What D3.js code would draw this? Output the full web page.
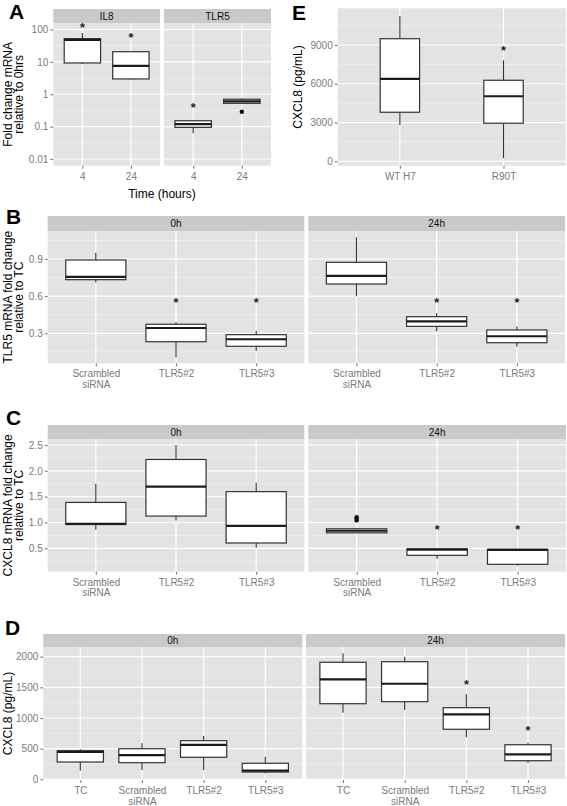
<!DOCTYPE html>
<html><head><meta charset="utf-8">
<script src="https://cdn.jsdelivr.net/npm/d3@7"></script>
<style>
body{margin:0;background:#fff}
svg text{font-family:"Liberation Sans",Arial,Helvetica,sans-serif}
</style>
</head><body>
<svg id="c" width="567" height="806"></svg>
<script>
// ---------------- DATA ----------------
// box rows: [lowerWhisker, q1, median, q3, upperWhisker]
// Panel A
const aCats = ["4", "24"];
const aFacetLabels = ["IL8", "TLR5"];
const aBoxesIL8 = [[8.6, 9.25, 48, 52, 78], [2.8, 2.97, 7.5, 20.6, 20.6]];
const aBoxesTLR5 = [[0.062, 0.095, 0.12, 0.152, 0.152], [0.525, 0.525, 0.605, 0.70, 0.74]];
const aStarsIL8 = [138, 68];
const aStarsTLR5 = [0.466, null];
const aOutIL8 = [[], []];
const aOutTLR5 = [[], [0.289]];
const aTicks = [0.01, 0.1, 1, 10, 100];
const aTickLabels = ["0.01", "0.1", "1", "10", "100"];
const aMinor = [0.0316, 0.316, 3.16, 31.6];

// Panel E
const eCats = ["WT H7", "R90T"];
const eBoxes = [[2814, 3796, 6371, 9487, 11242], [240, 2946, 5034, 6271, 7817]];
const eStars = [null, 8745];
const eTicks = [0, 3000, 6000, 9000];
const eTickLabels = ["0", "3000", "6000", "9000"];
const eMinor = [1500, 4500, 7500, 10500];

// Panel B
const bCats = ["Scrambled\nsiRNA", "TLR5#2", "TLR5#3"];
const bFacetLabels = ["0h", "24h"];
const bBoxes0h = [[0.71, 0.733, 0.755, 0.892, 0.951], [0.106, 0.232, 0.343, 0.373, 0.389], [0.16, 0.195, 0.252, 0.289, 0.321]];
const bBoxes24h = [[0.60, 0.698, 0.763, 0.873, 1.075], [0.316, 0.356, 0.396, 0.434, 0.461], [0.192, 0.224, 0.276, 0.327, 0.354]];
const bStars0h = [null, 0.573, 0.573];
const bStars24h = [null, 0.573, 0.573];
const bTicks = [0.3, 0.6, 0.9];
const bTickLabels = ["0.3", "0.6", "0.9"];
const bMinor = [0.15, 0.45, 0.75, 1.05];

// Panel C
const cCats = ["Scrambled\nsiRNA", "TLR5#2", "TLR5#3"];
const cFacetLabels = ["0h", "24h"];
const cBoxes0h = [[0.86, 0.96, 0.975, 1.388, 1.75], [1.04, 1.124, 1.694, 2.22, 2.5], [0.51, 0.603, 0.936, 1.597, 1.77]];
const cBoxes24h = [[0.80, 0.80, 0.84, 0.878, 0.878], [0.30, 0.364, 0.475, 0.49, 0.49], [0.16, 0.19, 0.47, 0.48, 0.48]];
const cStars0h = [null, null, null];
const cStars24h = [null, 0.92, 0.92];
const cOut24h = [[1.04, 1.07, 1.10], [], []];
const cTicks = [0.5, 1.0, 1.5, 2.0, 2.5];
const cTickLabels = ["0.5", "1.0", "1.5", "2.0", "2.5"];
const cMinor = [0.25, 0.75, 1.25, 1.75, 2.25];

// Panel D
const dCats = ["TC", "Scrambled\nsiRNA", "TLR5#2", "TLR5#3"];
const dFacetLabels = ["0h", "24h"];
const dBoxes0h = [[140, 282, 445, 467, 489], [152, 271, 396, 499, 587], [152, 359, 560, 630, 706], [98, 119, 140, 261, 369]];
const dBoxes24h = [[1086, 1233, 1631, 1909, 2055], [1130, 1266, 1559, 1918, 2000], [685, 816, 1060, 1168, 1387], [271, 303, 408, 564, 597]];
const dStars0h = [null, null, null, null];
const dStars24h = [null, null, 1587, 832];
const dTicks = [0, 500, 1000, 1500, 2000];
const dTickLabels = ["0", "500", "1000", "1500", "2000"];
const dMinor = [250, 750, 1250, 1750];

// ---------------- DRAWING ----------------
const svg = d3.select("#c");
const FONT = '"Liberation Sans",Arial,Helvetica,sans-serif';

function panel(cfg) {
  const g = svg.append("g");
  const y = cfg.y;
  cfg.facets.forEach((f, fi) => {
    const x = d3.scalePoint().domain(cfg.cats).range([f.x0, f.x1]).padding(0.6);
    if (cfg.stripTop != null) {
      g.append("rect").attr("x", f.x0).attr("y", cfg.stripTop)
        .attr("width", f.x1 - f.x0).attr("height", cfg.plotTop - cfg.stripTop).attr("fill", "#c9c9c9");
      g.append("text").attr("x", (f.x0 + f.x1) / 2).attr("y", (cfg.stripTop + cfg.plotTop) / 2)
        .attr("dy", "0.36em").attr("text-anchor", "middle").attr("font-size", 10)
        .attr("fill", "#111").text(f.label);
    }
    g.append("rect").attr("x", f.x0).attr("y", cfg.plotTop)
      .attr("width", f.x1 - f.x0).attr("height", cfg.plotBottom - cfg.plotTop).attr("fill", "#e3e3e3");
    g.selectAll(null).data(cfg.minor).enter().append("line")
      .attr("x1", f.x0).attr("x2", f.x1).attr("y1", d => y(d)).attr("y2", d => y(d))
      .attr("stroke", "#f0f0f0").attr("stroke-width", 0.8);
    g.selectAll(null).data(cfg.ticks).enter().append("line")
      .attr("x1", f.x0).attr("x2", f.x1).attr("y1", d => y(d)).attr("y2", d => y(d))
      .attr("stroke", "#ffffff").attr("stroke-width", 1.2);
    g.selectAll(null).data(cfg.cats).enter().append("line")
      .attr("x1", d => x(d)).attr("x2", d => x(d)).attr("y1", cfg.plotTop).attr("y2", cfg.plotBottom)
      .attr("stroke", "#ffffff").attr("stroke-width", 1.2);

    const w = cfg.boxFrac * x.step();
    f.boxes.forEach((b, i) => {
      const cx = x(cfg.cats[i]);
      const [lo, q1, md, q3, hi] = b;
      const bg = g.append("g");
      bg.append("line").attr("x1", cx).attr("x2", cx).attr("y1", y(hi)).attr("y2", y(q3))
        .attr("stroke", "#333").attr("stroke-width", 1.1);
      bg.append("line").attr("x1", cx).attr("x2", cx).attr("y1", y(q1)).attr("y2", y(lo))
        .attr("stroke", "#333").attr("stroke-width", 1.1);
      bg.append("rect").attr("x", cx - w / 2).attr("y", y(q3)).attr("width", w)
        .attr("height", Math.max(0.5, y(q1) - y(q3)))
        .attr("fill", "#fff").attr("stroke", "#333").attr("stroke-width", 1.2);
      bg.append("line").attr("x1", cx - w / 2).attr("x2", cx + w / 2).attr("y1", y(md)).attr("y2", y(md))
        .attr("stroke", "#1a1a1a").attr("stroke-width", 2.2);
      if (f.outliers && f.outliers[i]) {
        f.outliers[i].forEach(o => {
          bg.append("circle").attr("cx", cx).attr("cy", y(o)).attr("r", 2.2).attr("fill", "#111");
        });
      }
      if (f.stars && f.stars[i] != null) {
        bg.append("text").attr("x", cx).attr("y", y(f.stars[i]) + 7.2)
          .attr("text-anchor", "middle").attr("font-size", 12.5).attr("font-weight", "bold")
          .attr("fill", "#222").text("*");
      }
    });

    // x axis
    const ax = g.append("g").attr("transform", `translate(0,${cfg.plotBottom})`)
      .call(d3.axisBottom(x).tickSize(3).tickPadding(4));
    ax.select(".domain").remove();
    ax.attr("font-family", FONT).attr("font-size", 10);
    ax.selectAll(".tick line").attr("stroke", "#7f7f7f").attr("stroke-width", 1.1);
    ax.selectAll(".tick text").attr("fill", "#7a7a7a").attr("dy", null).each(function (d) {
      const t = d3.select(this);
      const lines = d.split("\n");
      t.text(null);
      lines.forEach((l, li) => {
        t.append("tspan").attr("x", 0).attr("dy", li === 0 ? "0.71em" : "1.05em").text(l);
      });
    });

    // y axis on first facet
    if (fi === 0) {
      const ay = g.append("g").attr("transform", `translate(${f.x0},0)`)
        .call(d3.axisLeft(y).tickValues(cfg.ticks).tickFormat((d, i) => cfg.tickLabels[i])
          .tickSize(3).tickPadding(2));
      ay.select(".domain").remove();
      ay.attr("font-family", FONT).attr("font-size", 10);
      ay.selectAll(".tick line").attr("stroke", "#7f7f7f").attr("stroke-width", 1.1);
      ay.selectAll(".tick text").attr("fill", "#7a7a7a");
    }
  });

  // y title
  const cy = (cfg.plotTop + cfg.plotBottom) / 2;
  cfg.ytitle.forEach((t, i) => {
    const bx = cfg.ytitleX[i];
    svg.append("text").attr("transform", `translate(${bx},${cy}) rotate(-90)`)
      .attr("text-anchor", "middle").attr("font-size", 12).attr("fill", "#000").text(t);
  });
  // panel letter
  svg.append("text").attr("x", cfg.letterX).attr("y", cfg.letterY)
    .attr("font-size", 21).attr("font-weight", "bold").attr("fill", "#000").text(cfg.letter);
}

// Panel A
panel({
  cats: aCats,
  y: d3.scaleLog().domain([0.01, 100]).range([159, 29.5]),
  ticks: aTicks, tickLabels: aTickLabels, minor: aMinor,
  stripTop: 9, plotTop: 23, plotBottom: 165.7, boxFrac: 0.75,
  facets: [
    {label: aFacetLabels[0], x0: 53.3, x1: 160, boxes: aBoxesIL8, stars: aStarsIL8, outliers: aOutIL8},
    {label: aFacetLabels[1], x0: 164, x1: 271, boxes: aBoxesTLR5, stars: aStarsTLR5, outliers: aOutTLR5}
  ],
  ytitle: ["Fold change mRNA", "relative to 0hrs"], ytitleX: [12, 23],
  letter: "A", letterX: 9, letterY: 18.5
});
svg.append("text").attr("x", 162).attr("y", 197.5).attr("text-anchor", "middle")
  .attr("font-size", 12).attr("fill", "#000").text("Time (hours)");

// Panel E
panel({
  cats: eCats,
  y: d3.scaleLinear().domain([0, 9000]).range([161.3, 45]),
  ticks: eTicks, tickLabels: eTickLabels, minor: eMinor,
  stripTop: null, plotTop: 8.3, plotBottom: 165.7, boxFrac: 0.38,
  facets: [{label: "", x0: 337.7, x1: 565.7, boxes: eBoxes, stars: eStars, outliers: null}],
  ytitle: ["CXCL8 (pg/mL)"], ytitleX: [302],
  letter: "E", letterX: 292, letterY: 20
});

// Panel B
panel({
  cats: bCats,
  y: d3.scaleLinear().domain([0.3, 0.9]).range([333.3, 259]),
  ticks: bTicks, tickLabels: bTickLabels, minor: bMinor,
  stripTop: 216, plotTop: 231, plotBottom: 363.3, boxFrac: 0.75,
  facets: [
    {label: bFacetLabels[0], x0: 47.7, x1: 304.3, boxes: bBoxes0h, stars: bStars0h, outliers: null},
    {label: bFacetLabels[1], x0: 308.3, x1: 565, boxes: bBoxes24h, stars: bStars24h, outliers: null}
  ],
  ytitle: ["TLR5 mRNA fold change", "relative to TC"], ytitleX: [12, 23],
  letter: "B", letterX: 6, letterY: 224
});

// Panel C
panel({
  cats: cCats,
  y: d3.scaleLinear().domain([0.5, 2.5]).range([548.3, 445]),
  ticks: cTicks, tickLabels: cTickLabels, minor: cMinor,
  stripTop: 425, plotTop: 439, plotBottom: 571.7, boxFrac: 0.75,
  facets: [
    {label: cFacetLabels[0], x0: 47.7, x1: 304.3, boxes: cBoxes0h, stars: cStars0h, outliers: null},
    {label: cFacetLabels[1], x0: 308.3, x1: 566, boxes: cBoxes24h, stars: cStars24h, outliers: cOut24h}
  ],
  ytitle: ["CXCL8 mRNA fold change", "relative to TC"], ytitleX: [12, 23],
  letter: "C", letterX: 6, letterY: 425
});

// Panel D
panel({
  cats: dCats,
  y: d3.scaleLinear().domain([0, 2000]).range([779.3, 656.7]),
  ticks: dTicks, tickLabels: dTickLabels, minor: dMinor,
  stripTop: 634, plotTop: 647, plotBottom: 780, boxFrac: 0.75,
  facets: [
    {label: dFacetLabels[0], x0: 43.3, x1: 302.3, boxes: dBoxes0h, stars: dStars0h, outliers: null},
    {label: dFacetLabels[1], x0: 306, x1: 565, boxes: dBoxes24h, stars: dStars24h, outliers: null}
  ],
  ytitle: ["CXCL8 (pg/mL)"], ytitleX: [12],
  letter: "D", letterX: 5, letterY: 635
});
</script>
</body></html>
